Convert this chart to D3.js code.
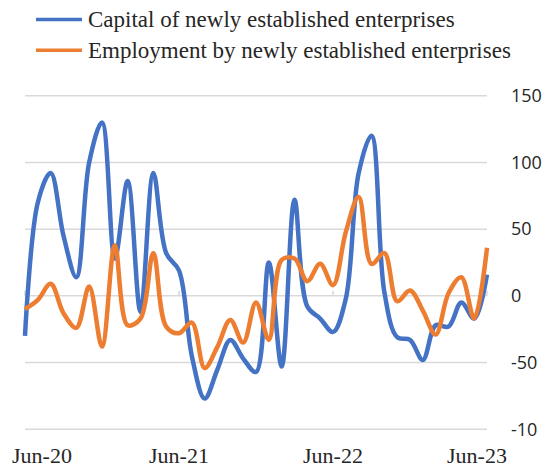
<!doctype html>
<html>
<head>
<meta charset="utf-8">
<title>New enterprises</title>
<style>
  body { margin: 0; background: #ffffff; }
  svg { display: block; }
</style>
</head>
<body>
<div id="chart"></div>
<script src="https://d3js.org/d3.v7.min.js"></script>
<script>
  // monthly, Jun-20 .. Jun-23
  var months = d3.range(37);
  var capital = [-30, 70, 92, 45, 14, 100, 130, 28, 86, -12, 92, 32, 19, -45, -77, -55, -33, -47, -57, 25,
                 -53, 72, -8, -17, -27, -2, 92, 120, 3, -31, -33, -48, -22, -23, -5, -17, 16];
  var employment = [-10, -3, 9, -13, -24, 7, -38, 38, -22, -17, 32, -23, -28, -20, -54, -38, -18, -35, -5, -33,
                    27, 28, 11, 24, 8, 48, 74, 24, 32, -4, 4, -11, -29, 2, 14, -17, 36];
  var xTicks = [0, 12, 24, 36];
  var xTickLabels = ["Jun-20", "Jun-21", "Jun-22", "Jun-23"];
  var yTicks = [150, 100, 50, 0, -50, -100];
  var yTickLabels = ["150", "100", "50", "0", "-50", "-10"];
  var seriesNames = ["Capital of newly established enterprises", "Employment by newly established enterprises"];
  var colors = ["#4472C4", "#ED7D31"];

  var w = 550, h = 470;
  var svg = d3.select("#chart").append("svg")
    .attr("width", w)
    .attr("height", h);

  var x = d3.scaleLinear().domain([0, 36]).range([25, 487]);
  var y = d3.scaleLinear().domain([-100, 150]).range([429.3, 95.7]);

  // gridlines
  svg.append("g").selectAll("line")
    .data(yTicks)
    .enter().append("line")
    .attr("x1", x(0)).attr("x2", x(36))
    .attr("y1", function(d) { return y(d); })
    .attr("y2", function(d) { return y(d); })
    .attr("stroke", "#d9d9d9")
    .attr("stroke-width", 1.5);

  // little ticks on the zero line
  svg.append("g").selectAll("line")
    .data(xTicks)
    .enter().append("line")
    .attr("x1", function(d) { return x(d); })
    .attr("x2", function(d) { return x(d); })
    .attr("y1", y(0)).attr("y2", y(0) - 5)
    .attr("stroke", "#d9d9d9")
    .attr("stroke-width", 1.5);

  // y labels on the right
  svg.append("g").selectAll("text")
    .data(yTicks)
    .enter().append("text")
    .attr("x", 511)
    .attr("y", function(d) { return y(d); })
    .attr("dy", "0.35em")
    .style("font-family", "'Open Sans', sans-serif")
    .style("font-size", "18px")
    .attr("fill", "#262626")
    .text(function(d, i) { return yTickLabels[i]; });

  // x labels, ends pulled inside like excel does
  svg.append("g").selectAll("text")
    .data(xTicks)
    .enter().append("text")
    .attr("x", function(d) { return Math.max(42, Math.min(477, x(d))); })
    .attr("y", 463)
    .attr("text-anchor", "middle")
    .style("font-family", "'Liberation Serif', serif")
    .style("font-size", "22px")
    .attr("fill", "#262626")
    .text(function(d, i) { return xTickLabels[i]; });

  var line = d3.line()
    .x(function(d, i) { return x(months[i]); })
    .y(function(d) { return y(d); })
    .curve(d3.curveCatmullRom.alpha(0.5));

  [capital, employment].forEach(function(s, k) {
    svg.append("path")
      .datum(s)
      .attr("d", line)
      .attr("fill", "none")
      .attr("stroke", colors[k])
      .attr("stroke-width", 4.5)
      .attr("stroke-linejoin", "round");
  });

  // legend
  var lg = svg.append("g").selectAll("g")
    .data(seriesNames)
    .enter().append("g")
    .attr("transform", function(d, i) { return "translate(0," + (19.5 + i * 30.7) + ")"; });
  lg.append("line")
    .attr("x1", 36).attr("x2", 82)
    .attr("stroke", function(d, i) { return colors[i]; })
    .attr("stroke-width", 3.5);
  lg.append("text")
    .attr("x", 88)
    .attr("dy", "0.33em")
    .style("font-family", "'Liberation Serif', serif")
    .style("font-size", "23px")
    .attr("fill", "#262626")
    .text(function(d) { return d; });
</script>
</body>
</html>
